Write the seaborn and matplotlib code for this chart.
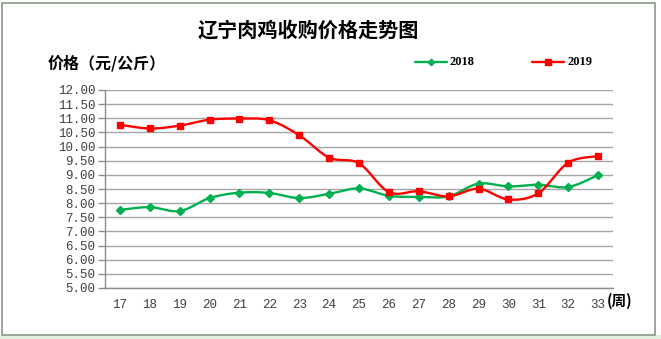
import numpy as np
import pandas as pd
import matplotlib
matplotlib.use("Agg")
import matplotlib.pyplot as plt
from matplotlib.patches import Rectangle
from matplotlib.ticker import FixedLocator, NullFormatter
import seaborn as sns

# Weekly broiler purchase prices (yuan / kg)
weeks = [str(w) for w in range(17, 34)]
price_2018 = [7.76, 7.86, 7.72, 8.18, 8.37, 8.36, 8.18, 8.33, 8.52, 8.26, 8.22, 8.24, 8.69, 8.59, 8.65, 8.57, 8.99]
price_2019 = [10.77, 10.64, 10.74, 10.95, 10.99, 10.93, 10.40, 9.61, 9.41, 8.39, 8.42, 8.24, 8.51, 8.13, 8.35, 9.43, 9.66]
y_ticks = [5.0 + 0.5 * i for i in range(15)]

sns.set_theme(style="white")
plt.rcParams["font.family"] = ["Noto Sans CJK SC", "DejaVu Sans"]


def smooth(xs, ys, n=20):
    """Catmull-Rom curve through the points (smoothed line)."""
    xs = np.asarray(xs, float)
    ys = np.asarray(ys, float)
    px = np.concatenate([[xs[0]], xs, [xs[-1]]])
    py = np.concatenate([[ys[0]], ys, [ys[-1]]])
    out_x, out_y = [], []
    t = np.linspace(0, 1, n, endpoint=False)
    for i in range(1, len(px) - 2):
        p0, p1, p2, p3 = (np.array([px[j], py[j]]) for j in range(i - 1, i + 3))
        c1 = p1 + (p2 - p0) / 6
        c2 = p2 - (p3 - p1) / 6
        pts = ((1 - t) ** 3)[:, None] * p1 + (3 * (1 - t) ** 2 * t)[:, None] * c1 \
            + (3 * (1 - t) * t ** 2)[:, None] * c2 + (t ** 3)[:, None] * p2
        out_x.extend(pts[:, 0])
        out_y.extend(pts[:, 1])
    out_x.append(xs[-1])
    out_y.append(ys[-1])
    return np.array(out_x), np.array(out_y)


W, H = 661, 339
fig = plt.figure(figsize=(W / 100, H / 100), dpi=100)
fig.patch.set_facecolor("white")
# chart frame
fig.add_artist(Rectangle((0, 0), 1, 4 / H, transform=fig.transFigure,
                         facecolor="#dff0dc", edgecolor="none", zorder=0))
fig.add_artist(Rectangle((2 / W, 4 / H), 653 / W, 332 / H, transform=fig.transFigure,
                         facecolor="none", edgecolor="#8a9a88", linewidth=1.2, zorder=5))

ax = fig.add_axes([105 / W, 1 - 288 / H, (613 - 105) / W, (288 - 90) / H])
x = np.arange(len(weeks))

series = [("2018", price_2018, "#00b050", "D", 3.6), ("2019", price_2019, "#ff0000", "s", 4.2)]
handles = []
for name, vals, col, mk, ms in series:
    sx, sy = smooth(x, vals)
    df = pd.DataFrame({"x": sx, "y": sy})
    sns.lineplot(data=df, x="x", y="y", ax=ax, color=col, linewidth=1.7,
                 sort=False, estimator=None, zorder=3)
    ax.plot(x, vals, linestyle="none", marker=mk, markersize=ms, color=col,
            markeredgecolor=col, zorder=4)
    h, = ax.plot([], [], color=col, linewidth=1.7, marker=mk, markersize=ms)
    handles.append((h, name))

ax.set_xlim(-0.5, len(weeks) - 0.5)
ax.set_ylim(5.0, 12.0)
ax.set_yticks(y_ticks)
ax.set_yticklabels([f"{v:.2f}" for v in y_ticks], family=["Liberation Mono", "DejaVu Sans Mono"],
                   fontsize=9, color="#404040")
ax.set_xticks(x)
ax.set_xticklabels(weeks, family=["Liberation Mono", "DejaVu Sans Mono"], fontsize=9, color="#404040")
ax.xaxis.set_minor_locator(FixedLocator(np.arange(-0.5, len(weeks), 1.0)))
ax.xaxis.set_minor_formatter(NullFormatter())
ax.tick_params(axis="x", which="major", length=0, pad=8)
ax.tick_params(axis="x", which="minor", length=5, width=1, color="#8c8c8c", direction="out")
ax.tick_params(axis="y", which="major", length=5, width=1, color="#8c8c8c", direction="out", pad=2, left=True)
ax.grid(axis="y", color="#a6a6a6", linewidth=1.0)
ax.grid(axis="x", visible=False)
for side in ["top", "right"]:
    ax.spines[side].set_visible(False)
for side in ["left", "bottom"]:
    ax.spines[side].set_color("#8c8c8c")
    ax.spines[side].set_linewidth(1.0)
ax.set_xlabel("")
ax.set_ylabel("")
ax.set_axisbelow(True)

fig.text(308 / W, 1 - 30 / H, "辽宁肉鸡收购价格走势图", ha="center", va="center",
         fontsize=14.5, fontweight="bold", color="#000000")
fig.text(48 / W, 1 - 63 / H, "价格（元/公斤）", ha="left", va="center",
         fontsize=11.5, fontweight="bold", color="#000000")
fig.text(607 / W, 1 - 301 / H, "(周)", ha="left", va="center",
         fontsize=10.5, fontweight="bold", color="#000000")

leg_pos = [(415, 450), (532, 567)]
for (h, name), (lx, tx) in zip(handles, leg_pos):
    col = h.get_color()
    fig.add_artist(plt.Line2D([lx / W, (lx + 32) / W], [1 - 62 / H] * 2, color=col,
                              linewidth=1.7, transform=fig.transFigure))
    fig.add_artist(plt.Line2D([(lx + 16) / W], [1 - 62 / H], color=col, marker=h.get_marker(),
                              markersize=h.get_markersize() * 0.9, transform=fig.transFigure))
    fig.text(tx / W, 1 - 62 / H, name, ha="left", va="center", fontsize=9,
             family=["Liberation Serif", "DejaVu Serif"], fontweight="bold", color="#000000")

fig.savefig("out.png", dpi=100)
